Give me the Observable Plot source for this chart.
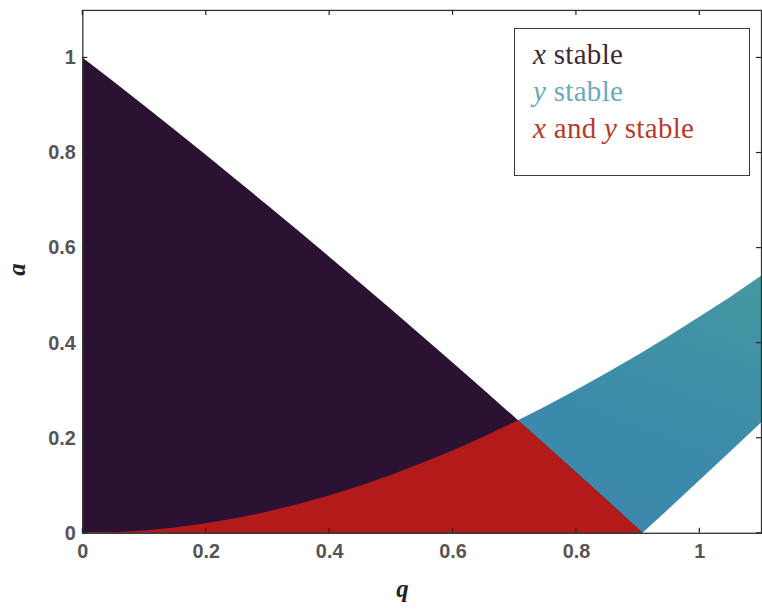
<!DOCTYPE html>
<html>
<head>
<meta charset="utf-8">
<script src="https://cdn.jsdelivr.net/npm/d3@7"></script>
<script src="https://cdn.jsdelivr.net/npm/@observablehq/plot@0.6"></script>
<style>
  html, body { margin: 0; padding: 0; background: #fff; overflow: hidden; width: 762px; height: 614px; }
  #chart { position: absolute; left: 0; top: 0; }
  #legend {
    position: absolute; left: 514px; top: 28px; width: 236px; height: 148px;
    border: 1.5px solid #3a3a3a; background: #fff;
    font-family: "Liberation Serif", "Times New Roman", serif; font-size: 29px; line-height: 37px;
    padding: 7px 0 0 18px; box-sizing: border-box;
  }
  #legend div { white-space: nowrap; letter-spacing: 0.3px; }
  #legend i { font-style: italic; }
</style>
</head>
<body>
<div id="chart"></div>
<div id="legend"></div>
<script>
// ---- data ----
const qValues = [0, 0.05, 0.1, 0.15, 0.2, 0.25, 0.3, 0.35, 0.4, 0.45, 0.5, 0.55, 0.6, 0.65, 0.7, 0.706, 0.75, 0.8, 0.85, 0.9, 0.908, 0.95, 1.0, 1.05, 1.1];
// upper boundary of the "x stable" region (null = region ended)
const xStableUpper = [1, 0.9497, 0.8988, 0.8472, 0.7951, 0.7424, 0.6892, 0.6353, 0.5810, 0.5261, 0.4707, 0.4147, 0.3583, 0.3013, 0.2439, 0.2370, 0.1860, 0.1276, 0.0688, 0.0095, 0, null, null, null, null];
// upper and lower boundaries of the "y stable" region
const yStableUpper = [0, 0.0012, 0.0050, 0.0112, 0.0199, 0.0310, 0.0446, 0.0605, 0.0787, 0.0991, 0.1218, 0.1466, 0.1734, 0.2023, 0.2331, 0.2370, 0.2658, 0.3003, 0.3365, 0.3742, 0.3805, 0.4135, 0.4543, 0.4963, 0.5410];
const yStableLower = [0, 0, 0, 0, 0, 0, 0, 0, 0, 0, 0, 0, 0, 0, 0, 0, 0, 0, 0, 0, 0, 0.0502, 0.1103, 0.1709, 0.2319];

const xTicks = [0, 0.2, 0.4, 0.6, 0.8, 1];
const xTickLabels = ["0", "0.2", "0.4", "0.6", "0.8", "1"];
const yTicks = [0, 0.2, 0.4, 0.6, 0.8, 1];
const yTickLabels = ["0", "0.2", "0.4", "0.6", "0.8", "1"];

const legendLabels = ["x stable", "y stable", "x and y stable"];
const regionColors = ["#2c1232", "#3c8aab", "#b31b1b"];
const legendColors = ["#3b2b36", "#6aa9bc", "#b8392c"];

// ---- build tables ----
const rows = qValues.map((q, i) => ({q, xs: xStableUpper[i], yu: yStableUpper[i], yl: yStableLower[i]}));
const xRows = rows.filter(d => d.xs != null);
const bothRows = xRows.map(d => ({q: d.q, top: Math.min(d.xs, d.yu)}));

const tickLen = 5;
const chart = Plot.plot({
  width: 768,
  height: 614,
  marginLeft: 83,
  marginRight: 1,
  marginTop: 10,
  marginBottom: 77,
  x: {domain: [0, 1.1]},
  y: {domain: [0, 1.1]},
  style: {fontFamily: "'Liberation Sans', Arial, sans-serif", background: "white"},
  marks: [
    Plot.areaY(rows, {x: "q", y1: "yl", y2: "yu", fill: "url(#blueGrad)"}),
    Plot.areaY(xRows, {x: "q", y1: 0, y2: "xs", fill: regionColors[0]}),
    Plot.areaY(bothRows, {x: "q", y1: 0, y2: "top", fill: regionColors[2]}),
    Plot.axisX({ticks: xTicks, tickFormat: d => xTickLabels[xTicks.indexOf(d)], tickSize: 0, tickPadding: 11, fontSize: 20, fontWeight: "bold", fill: "#555", label: null}),
    Plot.axisY({ticks: yTicks, tickFormat: d => yTickLabels[yTicks.indexOf(d)], tickSize: 0, tickPadding: 7, fontSize: 20, fontWeight: "bold", fill: "#555", label: null}),
    Plot.frame({stroke: "#333", strokeWidth: 1.3}),
    Plot.text(["q"], {frameAnchor: "bottom", dy: 64, dx: -20, fontSize: 25, fontWeight: "bold", fontStyle: "italic", fontFamily: "'Liberation Serif', serif", fill: "#222"}),
    Plot.text(["a"], {frameAnchor: "left", dx: -66, dy: 4, rotate: -90, fontSize: 25, fontWeight: "bold", fontStyle: "italic", fontFamily: "'Liberation Serif', serif", fill: "#222"})
  ]
});

// gradient for the y-stable region (blue shading slightly toward teal on the right)
const svgNS = "http://www.w3.org/2000/svg";
const svg = chart.tagName.toLowerCase() === "svg" ? chart : chart.querySelector("svg");
const defs = document.createElementNS(svgNS, "defs");
const grad = document.createElementNS(svgNS, "linearGradient");
grad.setAttribute("id", "blueGrad");
grad.setAttribute("x1", "0"); grad.setAttribute("x2", "1"); grad.setAttribute("y1", "1"); grad.setAttribute("y2", "0");
[["0", "#3a84b0"], ["0.6", "#3c8aab"], ["1", "#4597a0"]].forEach(([o, c]) => {
  const s = document.createElementNS(svgNS, "stop");
  s.setAttribute("offset", o); s.setAttribute("stop-color", c);
  grad.appendChild(s);
});
defs.appendChild(grad);
svg.insertBefore(defs, svg.firstChild);

document.getElementById("chart").appendChild(chart);

// inward ticks on all four sides, positioned through the scales
const xs = chart.scale("x"), ys = chart.scale("y");
const g = document.createElementNS(svgNS, "g");
g.setAttribute("stroke", "#222"); g.setAttribute("stroke-width", "1.2");
const [y0, y1] = ys.range; // bottom, top
const [x0, x1] = xs.range;
function line(a, b, c, d) {
  const l = document.createElementNS(svgNS, "line");
  l.setAttribute("x1", a); l.setAttribute("y1", b); l.setAttribute("x2", c); l.setAttribute("y2", d);
  g.appendChild(l);
}
xTicks.forEach(t => { const x = xs.apply(t); line(x, y0, x, y0 - tickLen); line(x, y1, x, y1 + tickLen); });
yTicks.forEach(t => { const y = ys.apply(t); line(x0, y, x0 + tickLen, y); line(x1, y, x1 - tickLen, y); });
svg.appendChild(g);

// legend
const legend = document.getElementById("legend");
const italicize = s => s.replace(/\b([xy])\b/g, "<i>$1</i>");
legendLabels.forEach((lab, i) => {
  const d = document.createElement("div");
  d.style.color = legendColors[i];
  d.innerHTML = italicize(lab);
  legend.appendChild(d);
});
</script>
</body>
</html>
